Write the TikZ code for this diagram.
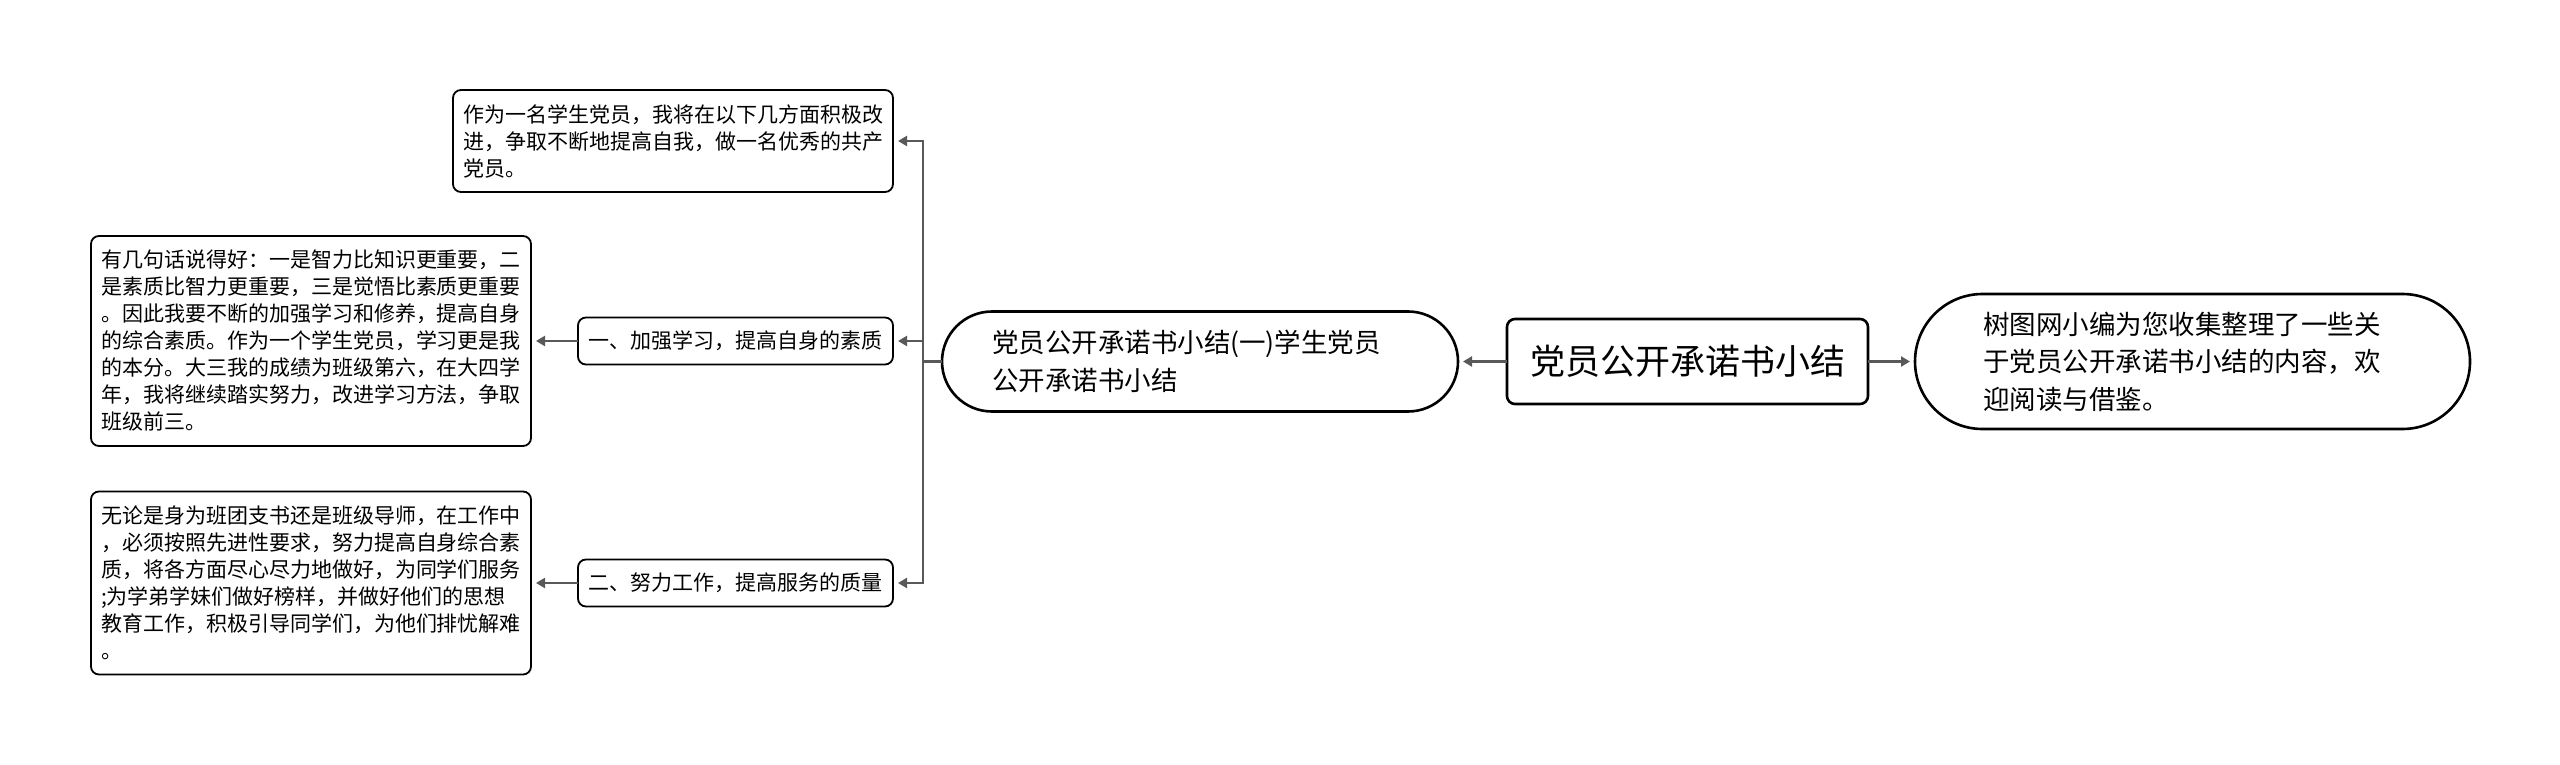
\documentclass[tikz,border=0pt]{standalone}
\usepackage{fontspec}
\newfontfamily\cjk{Noto Sans CJK SC}
\usetikzlibrary{arrows.meta, positioning}
\definecolor{linkgray}{RGB}{89,89,89}
\tikzset{
  topic/.style   = {draw=black, line width=2.6pt, rounded corners=8pt, fill=white,
                    font=\cjk\fontsize{35}{40}\selectfont, inner sep=0pt, outer sep=0pt,
                    minimum width=361pt, minimum height=85pt},
  bubble/.style  = {draw=black, line width=2.6pt, fill=white, align=left,
                    font=\cjk\fontsize{26.5}{37.5}\selectfont, inner sep=0pt, outer sep=0pt},
  subtopic/.style= {draw=black, line width=1.8pt, rounded corners=8pt, fill=white,
                    font=\cjk\fontsize{21}{27}\selectfont, inner sep=0pt, outer sep=0pt,
                    minimum width=315pt, minimum height=47pt},
  leaf/.style    = {draw=black, line width=1.8pt, rounded corners=8pt, fill=white,
                    align=left, font=\cjk\fontsize{21}{27}\selectfont,
                    inner sep=0pt, outer sep=0pt, minimum width=440pt},
  flow/.style    = {draw=linkgray, line width=2.8pt,
                    -{Triangle[length=9pt,width=10pt]}, shorten >=5pt},
}

\begin{document}
\begin{tikzpicture}[x=1pt, y=-1pt]
  \useasboundingbox (0,0) rectangle (2560,765);
  % main row
  \node[topic] (root) at (1687.5,361.5) {党员公开承诺书小结};
  \node[bubble, rounded corners=67.5pt, minimum width=555pt, minimum height=135pt,
        text width=419pt, right=47pt of root] (intro)
       {树图网小编为您收集整理了一些关\\于党员公开承诺书小结的内容，欢\\迎阅读与借鉴。};
  \node[bubble, rounded corners=50pt, minimum width=516pt, minimum height=100pt,
        text width=416pt, left=49pt of root] (mid)
       {党员公开承诺书小结(一)学生党员\\公开承诺书小结};
  % branches
  \node[subtopic, left=49pt of mid, yshift=20.5pt]   (b1) {一、加强学习，提高自身的素质};
  \node[subtopic, left=49pt of mid, yshift=-221.5pt] (b2) {二、努力工作，提高服务的质量};
  % leaves
  \node[leaf, minimum height=102pt, anchor=east] (leaf0) at (893,141)
       {作为一名学生党员，我将在以下几方面积极改\\进，争取不断地提高自我，做一名优秀的共产\\党员。};
  \node[leaf, minimum height=210pt, left=47pt of b1] (leaf1)
       {有几句话说得好：一是智力比知识更重要，二\\是素质比智力更重要，三是觉悟比素质更重要\\。因此我要不断的加强学习和修养，提高自身\\的综合素质。作为一个学生党员，学习更是我\\的本分。大三我的成绩为班级第六，在大四学\\年，我将继续踏实努力，改进学习方法，争取\\班级前三。};
  \node[leaf, minimum height=183pt, left=47pt of b2] (leaf2)
       {无论是身为班团支书还是班级导师，在工作中\\，必须按照先进性要求，努力提高自身综合素\\质，将各方面尽心尽力地做好，为同学们服务\\;为学弟学妹们做好榜样，并做好他们的思想\\教育工作，积极引导同学们，为他们排忧解难\\。};
  \coordinate[left=19pt of mid.west] (trunk);
  % connectors
  \draw[flow] (root) -- (intro);
  \draw[flow] (root) -- (mid);
  \draw[flow] (mid.west) -- (trunk) |- (leaf0.east);
  \draw[flow] (mid.west) -- (trunk) |- (b1.east);
  \draw[flow] (mid.west) -- (trunk) |- (b2.east);
  \draw[flow] (b1) -- (leaf1);
  \draw[flow] (b2) -- (leaf2);
\end{tikzpicture}
\end{document}
